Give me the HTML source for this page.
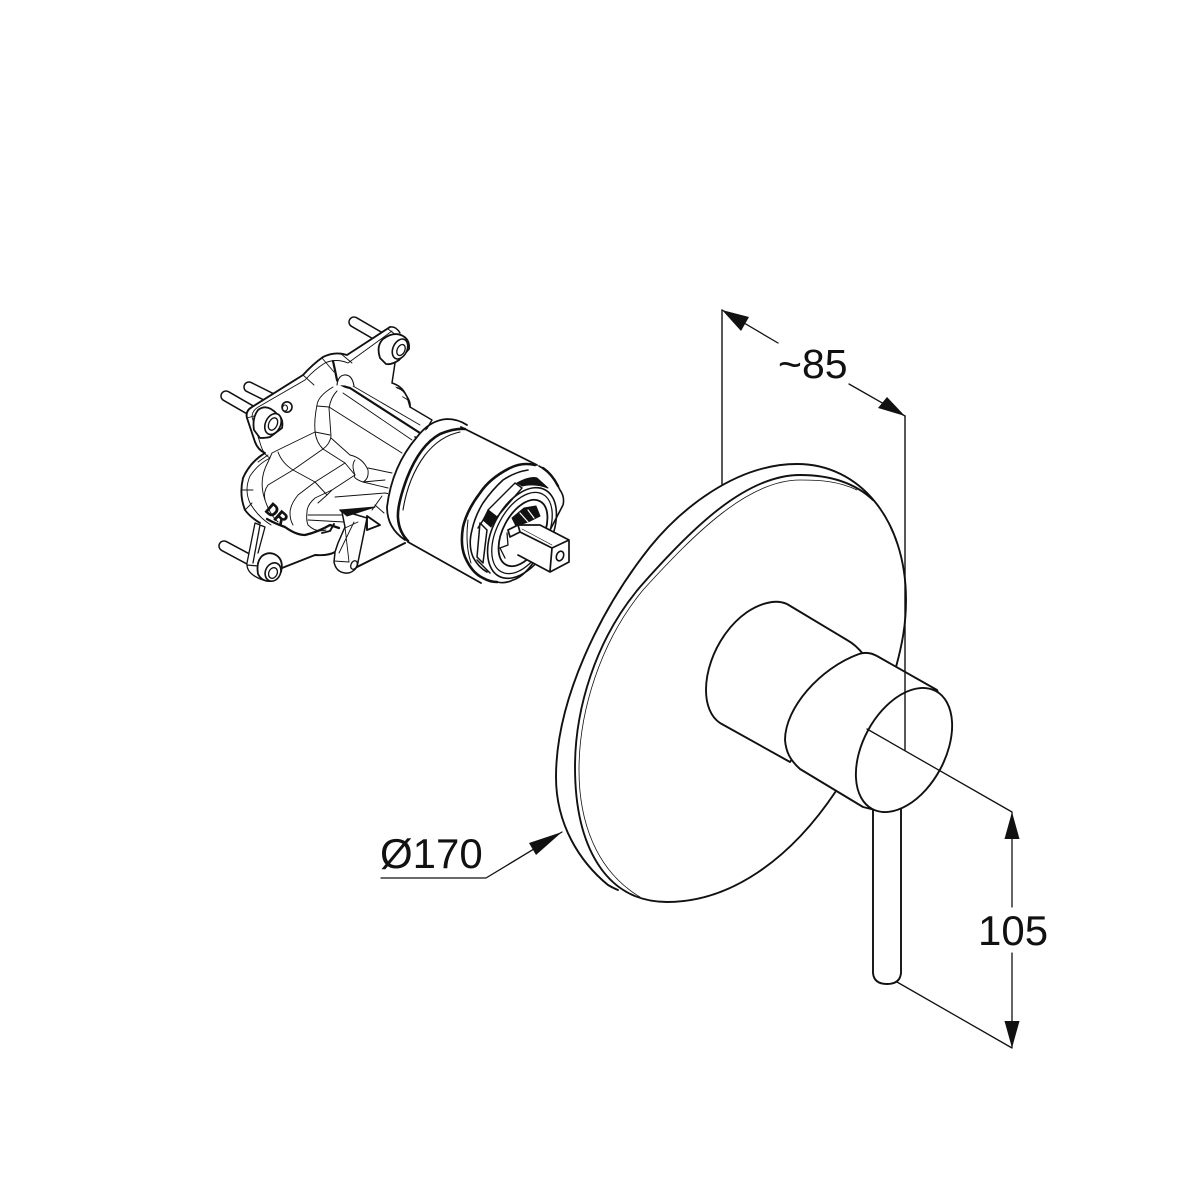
<!DOCTYPE html>
<html><head><meta charset="utf-8"><style>
html,body{margin:0;padding:0;background:#fff}
svg{display:block}
text{font-family:"Liberation Sans",sans-serif;fill:#111}
</style></head><body>
<svg width="1200" height="1200" viewBox="0 0 1200 1200" xmlns="http://www.w3.org/2000/svg">
<rect width="1200" height="1200" fill="#fff"/>
<g fill="none" stroke="#111" stroke-linecap="round" stroke-linejoin="round">
<!-- pins -->
<path d="M354 322L385 340M249 387L275 400M226 396L252 411M224 546L252 561" stroke-width="11.500"/>
<path d="M354 322L385 340M249 387L275 400M226 396L252 411M224 546L252 561" stroke="#fff" stroke-width="8.500"/>
<!-- box behind -->
<path d="M372 397Q381 388 393 387Q405 388 408 400L410 407L432 420L420 440L372 410Z" fill="#fff" stroke-width="1.400"/>
<path d="M382 392Q383 403 392 412M393 387L398 394L408 400" stroke-width=".9"/>
<!-- flange + body white -->
<path d="M390 327L347 355Q335 351 323 357Q313 364 303 375L252 407Q245 411 247 418L255 442Q258 450 265 453Q250 462 243 480Q240 495 245 510L255 523L247 563Q246 574 263 580L282 568L315 555Q328 556 335 552L334 560Q336 572 345 573L357 567L405 543L410 440L420 432L400 392L392 383L395 363L402 350L400 333Q396 326 390 327Z" fill="#fff" stroke="none"/>
<path d="M392 383L395 363M392 383Q402 386 406 395Q411 402 410 407" stroke-width="1.500"/>
<path d="M390 327L347 355Q335 351 323 357Q313 364 303 375L252 407Q245 411 247 418L255 442Q258 450 265 453Q250 462 243 478Q239 495 245 510Q250 517 260 523" stroke-width="1.900"/>
<path d="M390 327Q396 326 400 333" stroke-width="1.400"/>
<path d="M392 331L348 363Q336 358 325 363Q315 369 305 380L260 406Q252 410 252 417L261 446Q264 455 270 458Q258 464 250 476Q244 490 250 503Q258 517 271 525" stroke-width=".9"/>
<path d="M303 375L314 385M322 358L334 372M340 353L352 363M388 329L396 335M247 418L254 416M268 455L258 462M241 490L253 490M245 510L252 503" stroke-width=".9"/>
<path d="M333 361Q335 370 337 380Q340 386 350 388L420 433" stroke-width="2.200"/>
<path d="M353 386L420 425" stroke-width=".9"/>
<path d="M343 393L412 440" stroke-width=".9"/>
<path d="M337 385Q338 376 344 375Q352 374 354 386" fill="#fff" stroke-width="1.100"/>
<!-- body internals -->
<g stroke-width=".95">
<path d="M333 387Q318 396 317 405Q314 420 315 431Q316 442 323 449Q330 444 331 436L329 408Q331 397 337 391"/>
<path d="M317 406L329 407M315 432L330 435M329 407L402 453"/>
<path d="M331 438L350 455Q363 458 368 470Q369 479 363 482Q352 478 355 475Q351 465 355 460"/>
<path d="M368 468L392 473M363 482L388 488M323 449L293 470L315 482L345 463L323 449"/>
<path d="M315 432L282 448L272 453L268 462Q258 480 265 500Q270 515 278 522"/>
<path d="M278 452Q282 463 293 470L268 485Q263 492 265 500"/>
<path d="M315 482L298 495Q290 505 290 513Q290 520 293 525M355 475L332 490L315 498Q307 505 307 512Q306 520 308 525"/>
<path d="M315 482L327 495L318 503M332 490L327 495M345 463L355 475M335 497L385 493M363 482L385 480"/>
<path d="M308 515L342 515M308 520L344 522M308 525Q316 533 326 530"/>
<path d="M382 496L372 510M384 513L375 505M385 493L395 495"/>
</g>
<path d="M267 519Q276 524 285 527Q296 535 305 535Q318 532 330 525L339 528" stroke-width="2.300"/>
<text x="0" y="0" transform="translate(264,511) rotate(41) scale(.95,1.050)" font-size="17" font-weight="700" stroke="#111" stroke-width=".5">DR</text>
<!-- lower arm -->
<path d="M255 523L247 563Q246 574 263 580M260 525L253 563M265 527L258 553M255 523L265 527M247 565L258 566" stroke-width="1.300"/>
<path d="M282 568L315 555Q328 556 335 552" stroke-width="1.900"/>
<!-- bracket -->
<path d="M342 512L345 527L338 543L335 552L334 562Q336 572 345 573Q352 574 357 567L367 518L340 510Z" fill="#fff" stroke-width="1.500"/>
<path d="M345 527L349 562M354 522L339 553M334 561L349 562M345 528L358 522" stroke-width=".9"/>
<ellipse cx="354" cy="565" rx="3" ry="4.500" fill="#fff" stroke-width="1.300" transform="rotate(25 354 565)"/>
<path d="M340 510L375 507L347 516Z" fill="#111" stroke-width="1"/>
<path d="M367 516L380 525L367 530Z" fill="#fff" stroke-width="1.900"/>
<path d="M334 524L330 531L322 533" stroke-width="1.900"/>
<path d="M357 567L405 543" stroke-width="2"/>
<!-- screws -->
<g fill="#fff">
<path d="M383 339Q376 346 380 358L386 364Q392 365 399 360L409 349Q410 340 403 336Q394 331 383 339Z" stroke-width="1.800"/>
<ellipse cx="400" cy="349" rx="7" ry="10.500" stroke-width="1.600" transform="rotate(25 400 349)"/>
<ellipse cx="401" cy="350" rx="3.800" ry="5.800" stroke-width="1.300" transform="rotate(25 401 350)"/>
<ellipse cx="287" cy="407" rx="5" ry="5.200" stroke-width="1.600"/>
<ellipse cx="285" cy="408" rx="2.500" ry="3" stroke-width="1.100"/>
<path d="M258 410Q252 418 254 430L260 438Q266 438 270 437L282 428Q284 418 277 414Q267 403 258 410Z" stroke-width="1.800"/>
<ellipse cx="273" cy="424" rx="7.500" ry="11" stroke-width="1.600" transform="rotate(25 273 424)"/>
<ellipse cx="273" cy="424" rx="4.200" ry="6.500" stroke-width="1.300" transform="rotate(25 273 424)"/>
<path d="M262 556Q256 562 258 574Q262 582 271 581L281 572Q284 560 276 555Q269 551 262 556Z" stroke-width="1.800"/>
<ellipse cx="273" cy="572" rx="7.500" ry="9.500" stroke-width="1.600" transform="rotate(25 273 572)"/>
<ellipse cx="273" cy="573" rx="4.200" ry="5.500" stroke-width="1.300" transform="rotate(25 273 573)"/>
</g>
<!-- cartridge -->
<path d="M467 425L537 465L565 505L538 568L482 584L407 542L387 507Q387 470 417 437Q440 416 467 425Z" fill="#fff" stroke="none"/>
<path d="M467 425Q458 419 447 419Q430 420 417 437Q392 466 387 507Q387 528 405 540" stroke-width="1.800"/>
<path d="M465 429Q455 428 440 434Q420 445 407 478Q397 505 398 518Q399 532 408 541" stroke-width="2.600"/>
<path d="M460 432Q440 436 425 455Q408 478 403 510" stroke-width="1.100"/>
<path d="M461 427L537 465M408 542L481 583" stroke-width="1.800"/>
<!-- face -->
<path d="M535 465Q522 462 510 468Q490 478 480 493Q467 510 463 527Q460 545 465 557Q472 573 483 578Q490 582 497 582" stroke-width="2.600"/>
<path d="M528 470Q515 472 503 480Q492 490 483 503Q475 516 472 530Q468 545 473 557Q478 567 487 572" stroke-width="1.600"/>
<path d="M468 520Q465 545 471 563" stroke-width="1"/>
<path d="M539 466Q552 473 560 490Q565 497 563 505L533 563Q523 577 513 580Q505 584 497 582" stroke-width="1.600"/>
<path d="M543 468Q552 474 558 486" stroke-width="2.400"/>
<path d="M488 510L515 483L522 488L497 517Z" fill="#fff" stroke-width="1.400"/>
<path d="M488 510L497 517L491 527L483 520Z" fill="#111" stroke-width="1"/>
<path d="M517 483Q530 476 537 478L548 488Q535 483 522 486Z" fill="#111" stroke-width="1"/>
<path d="M480 523L477 557L483 563L487 530Z" fill="#fff" stroke-width="1.500"/>
<path d="M489 511L478 528M477 560L490 573" stroke-width="1.500"/>
<ellipse cx="522" cy="533" rx="49" ry="29" transform="rotate(-62 522 533)" stroke-width="1.600"/>
<ellipse cx="522" cy="533" rx="44" ry="25" transform="rotate(-62 522 533)" stroke-width="1.300"/>
<ellipse cx="523" cy="533" rx="36" ry="20" transform="rotate(-62 523 533)" stroke-width="1.800"/>
<path d="M505 558L500 548L508 545L507 533" stroke-width="1.300"/>
<path d="M512 518L524 508L536 506L540 516L528 522L516 526Z" fill="#111" stroke-width="1"/>
<path d="M520 513L528 522M528 510L534 518" stroke="#fff" stroke-width="1.200"/>
<path d="M508 530L540 525L569 540L569 562L550 572L518 555L510 537Z" fill="#fff" stroke="none"/>
<path d="M508 530L518 525L540 525L569 540L552 548L520 532L510 537L508 530M520 532L518 525M552 548L550 571M518 555L550 572L569 562V540" stroke-width="1.700"/>
<path d="M522 529L552 545" stroke-width=".7"/>
<ellipse cx="560" cy="556" rx="3.500" ry="5" stroke-width="1.600" transform="rotate(22 560 556)"/>
<!-- plate -->
<path d="M608 885C580 862 556 825 556 777C556 700 600 610 650 547C680 510 735 464 797 464C860 464 906 520 906 600C906 625 902 645 896 667L836 791L667 902Z" fill="#fff" stroke="none"/>
<path d="M618 890Q613 888 608 885C580 862 556 825 556 777C556 700 600 610 650 547C680 510 735 464 797 464C860 464 906 520 906 600C906 625 902 645 896 667" stroke-width="1.900"/>
<path d="M873 500C855 483 830 475 800 475C745 475 690 530 640 587C595 640 575 710 575 767C575 845 605 902 667 902C730 902 790 860 836 791" stroke-width="1.900"/>
<path d="M857 490C838 481 820 480 800 480C748 480 695 533 643 590C600 642 579 712 579 770C579 820 595 870 640 897" stroke-width=".8"/>
<!-- handle -->
<path d="M873 805V973Q874 984 887 984Q900 984 901 973V805" fill="#fff" stroke-width="1.900"/>
<!-- knob -->
<path d="M863 654Q856 645 847 640L787 604Q780 601 772 602C736 607 706 652 706 690C706 705 711 717 720 723L790 762Z" fill="#fff" stroke-width="1.900"/>
<path d="M877 656Q868 651 859 654C820 668 785 708 785 740C786 752 790 760 800 769L863 807L883 812L952 730L937 690Z" fill="#fff" stroke-width="1.900"/>
<ellipse cx="904" cy="750" rx="67" ry="41" transform="rotate(-61.600 904 750)" fill="#fff" stroke-width="1.900"/>
<!-- dimension lines -->
<path d="M722 310V485M905 416V750" stroke-width="1.400"/>
<path d="M722 310L778 343M849 384L905 416M867 729L1012 812M897 982L1012 1048M1012 812V907M1012 953V1048M381 878H486L562 832" stroke-width="1.300"/>
</g>
<g fill="#111">
<path d="M722 310L749 317L741 331Z"/>
<path d="M905 416L887 397L878 408Z"/>
<path d="M562 832L529 843L536 855Z"/>
<path d="M1012 812L1004.500 839H1019.500Z"/>
<path d="M1012 1048L1004.500 1021H1019.500Z"/>
</g>
<text x="778" y="378" font-size="41">~85</text>
<text x="380" y="868" font-size="42">Ø170</text>
<text x="978" y="945" font-size="42">105</text>
</svg>
</body></html>
